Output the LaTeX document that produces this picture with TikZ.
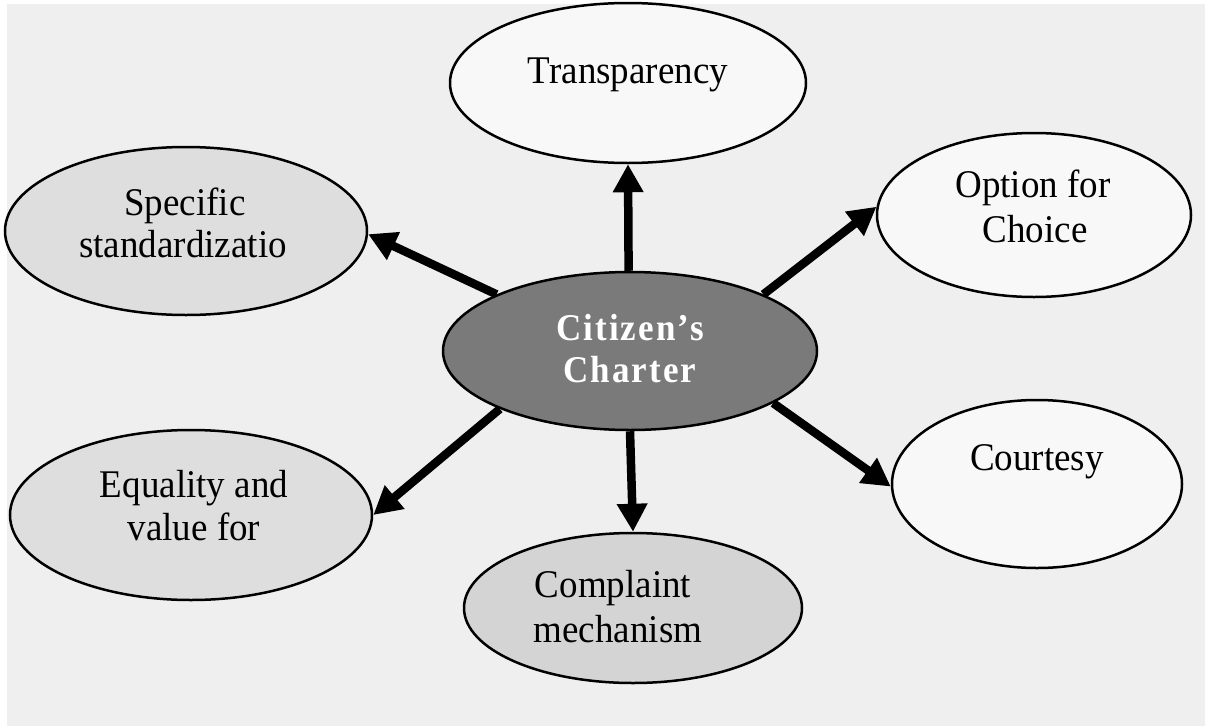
\documentclass[tikz,border=0pt]{standalone}
\usepackage{fontspec}
\setmainfont{Liberation Serif}
\newfontfamily\spacedbold[LetterSpace=6]{Liberation Serif Bold}
\usetikzlibrary{shapes.geometric,arrows.meta}
\definecolor{bg}{HTML}{EFEFEF}
\definecolor{lightfill}{HTML}{F8F8F8}
\definecolor{grayfill}{HTML}{DEDEDE}
\definecolor{darkgrayfill}{HTML}{D4D4D4}
\definecolor{centerfill}{HTML}{7A7A7A}
\begin{document}
\begin{tikzpicture}[x=1pt,y=-1pt,
  bub/.style={ellipse,draw=black,line width=2.5pt,inner sep=0pt},
  txt/.style={anchor=base,inner sep=0pt,font=\fontsize{37}{44}\selectfont,yscale=1.06},
  ctxt/.style={anchor=base,inner sep=0pt,font=\fontsize{35}{44}\spacedbold,text=white,yscale=1.08},
  arr/.style={line width=8.5pt,-{Triangle[length=28pt,width=29pt]}}]
\useasboundingbox (0,0) rectangle (1205,726);
\fill[white] (0,0) rectangle (1205,726);
\fill[bg] (7,4) rectangle (1205,726);
% ellipses
\node[bub,fill=lightfill,minimum width=356pt,minimum height=160pt] (tr) at (628,83) {};
\node[bub,fill=lightfill,minimum width=314pt,minimum height=164pt] (op) at (1034,215) {};
\node[bub,fill=grayfill,minimum width=362pt,minimum height=168pt] (sp) at (186,231) {};
\node[bub,fill=centerfill,minimum width=374pt,minimum height=158pt] (cc) at (630,351) {};
\node[bub,fill=lightfill,minimum width=290pt,minimum height=168pt] (co) at (1037,484) {};
\node[bub,fill=grayfill,minimum width=362pt,minimum height=170pt] (eq) at (191,515) {};
\node[bub,fill=darkgrayfill,minimum width=338pt,minimum height=150pt] (cp) at (633,608) {};
% texts
\node[txt] (trT) at (628,83) {Transparency};
\node[txt] (opT1) at (1033,197) {Option for};
\node[txt] (opT2) at (1035,242) {Choice};
\node[txt] (spT1) at (185,215) {Specific};
\node[txt] (spT2) at (183,257) {standardizatio};
\node[ctxt] (ccT1) at (630,340) {Citizen’s};
\node[ctxt] (ccT2) at (630,382) {Charter};
\node[txt] (coT) at (1037,470) {Courtesy};
\node[txt] (eqT1) at (194,497) {Equality and};
\node[txt] (eqT2) at (194,540) {value for};
\node[txt] (cpT1) at (613,597) {Complaint};
\node[txt] (cpT2) at (618,642) {mechanism};
% arrows
\draw[arr] (cc.91) -- (tr.270);
\draw[arr] (cc.23) -- (op.177);
\draw[arr] (cc.157) -- (sp.359);
\draw[arr] (cc.204) -- (eq.0);
\draw[arr] (cc.270) -- (cp.90);
\draw[arr] (cc.340) -- (co.181);
\end{tikzpicture}
\end{document}
